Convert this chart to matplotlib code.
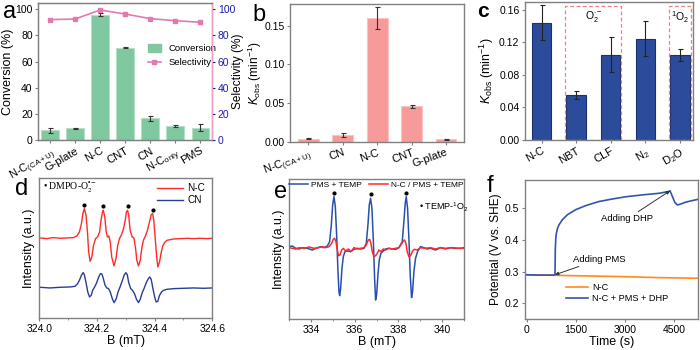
import numpy as np
import matplotlib
matplotlib.use('Agg')
import matplotlib.pyplot as plt
from matplotlib.patches import Rectangle
from matplotlib.ticker import MultipleLocator, FormatStrFormatter
from matplotlib.lines import Line2D

plt.rcParams['font.family'] = ['Liberation Sans', 'DejaVu Sans']
plt.rcParams['mathtext.fontset'] = 'custom'
plt.rcParams['mathtext.rm'] = 'Liberation Sans'
plt.rcParams['mathtext.it'] = 'Liberation Sans:italic'
plt.rcParams['mathtext.bf'] = 'Liberation Sans:bold'

# ---------------- data ----------------
# (a)
a_labels = ['N-C$_{\\rm (CA+U)}$', 'G-plate', 'N-C', 'CNT', 'CN', 'N-C$_{\\rm only}$', 'PMS']
a_conv = [7.3, 9.0, 95.9, 70.5, 16.6, 10.6, 9.5]
a_conv_err = [1.6, 0.4, 1.2, 0.4, 1.8, 0.6, 2.4]
a_sel = [92.1, 92.6, 99.5, 96.4, 92.9, 91.3, 90.1]

# (b)
b_labels = ['N-C$_{\\rm (CA+U)}$', 'CN', 'N-C', 'CNT', 'G-plate']
b_k = [0.0040, 0.0088, 0.160, 0.0458, 0.0032]
b_err = [0.0005, 0.0022, 0.0143, 0.0017, 0.0008]

# (c)
c_labels = ['N-C', 'NBT', 'CLF', 'N$_2$', 'D$_2$O']
c_k = [0.1444, 0.0555, 0.1046, 0.1247, 0.1046]
c_err = [0.0215, 0.0045, 0.0215, 0.0215, 0.0072]
c_box_top = 0.165
c_groups = [(1, 2, 'O$_2^{\\bullet -}$'), (4, 4, '$^1$O$_2$')]

# (d) EPR DMPO-O2
d_b_nc = [324.002, 324.026, 324.049, 324.072, 324.095, 324.118, 324.130, 324.139, 324.146, 324.151,
          324.156, 324.162, 324.167, 324.171, 324.176, 324.182, 324.188, 324.195, 324.202, 324.209,
          324.214, 324.219, 324.222, 324.227, 324.232, 324.236, 324.241, 324.246, 324.251, 324.259,
          324.266, 324.272, 324.278, 324.285, 324.292, 324.298, 324.302, 324.306, 324.310, 324.315,
          324.322, 324.328, 324.334, 324.338, 324.344, 324.350, 324.356, 324.361, 324.368, 324.375,
          324.382, 324.388, 324.393, 324.397, 324.402, 324.407, 324.411, 324.417, 324.423, 324.429,
          324.436, 324.443, 324.466, 324.489, 324.512, 324.535, 324.558, 324.581, 324.599]
d_int_nc = [0, -2, 1, -1, 0, 1, 6, 18, 43, 73,
            88, 68, 18, -42, -70, -57, -22, -2, 3, 18,
            53, 78, 83, 63, 18, 3, 6, -12, -57, -84,
            -62, -22, -2, 10, 28, 53, 78, 83, 68, 23,
            3, 0, -32, -67, -84, -67, -27, -7, 6, 23,
            48, 70, 73, 53, -2, -57, -87, -72, -42, -22,
            -12, -7, -3, -2, -1, -2, -1, -2, -1]
d_b_cn = [324.002, 324.037, 324.072, 324.107, 324.124, 324.132, 324.139, 324.146, 324.152, 324.156,
          324.162, 324.168, 324.174, 324.180, 324.185, 324.192, 324.199, 324.206, 324.212, 324.217,
          324.222, 324.228, 324.234, 324.240, 324.246, 324.253, 324.259, 324.266, 324.273, 324.280,
          324.287, 324.294, 324.300, 324.305, 324.310, 324.317, 324.323, 324.330, 324.337, 324.344,
          324.350, 324.357, 324.364, 324.371, 324.378, 324.383, 324.388, 324.394, 324.400, 324.405,
          324.411, 324.417, 324.424, 324.431, 324.443, 324.466, 324.500, 324.535, 324.570, 324.599]
d_int_cn = [2, 0, 2, 3, 5, 12, 23, 38, 46, 40,
            16, -12, -27, -22, -7, 3, 16, 33, 43, 42,
            28, 8, 0, -2, -12, -32, -44, -34, -12, 3,
            20, 38, 46, 40, 16, -2, -7, -17, -34, -44,
            -34, -14, 0, 16, 28, 33, 26, -2, -27, -42,
            -40, -22, -12, -7, -4, -2, -1, 0, -1, 0]
d_peaks = [324.156, 324.222, 324.306, 324.393]

# (e) EPR TEMP-1O2
e_b_pms = [333.000, 333.152, 333.304, 333.457, 333.609, 333.837, 334.065, 334.218, 334.446, 334.598,
           334.750, 334.857, 334.933, 334.994, 335.055, 335.116, 335.177, 335.237, 335.283, 335.314,
           335.359, 335.420, 335.481, 335.557, 335.664, 335.816, 335.968, 336.120, 336.272, 336.425,
           336.531, 336.607, 336.668, 336.729, 336.790, 336.851, 336.912, 336.957, 337.003, 337.064,
           337.125, 337.201, 337.307, 337.414, 337.566, 337.718, 337.871, 338.023, 338.175, 338.251,
           338.312, 338.358, 338.419, 338.479, 338.540, 338.601, 338.647, 338.708, 338.784, 338.875,
           339.012, 339.164, 339.317, 339.469, 339.697, 339.925, 340.154, 340.382, 340.610, 340.839,
           340.991]
e_int_pms = [5, 7, 0, -2, 2, 0, -5, 0, 5, 2,
             7, 20, 70, 130, 155, 125, 40, -70, -130, -142,
             -120, -60, -25, -10, -8, -10, -3, 0, -2, 0,
             15, 70, 130, 150, 120, 30, -90, -155, -140, -80,
             -35, -15, -8, -2, 0, -2, -3, 2, 20, 80,
             135, 155, 120, 30, -80, -148, -130, -70, -30, -10,
             5, 2, -2, 0, -5, 2, -2, 2, 0, 0,
             2]
e_b_nc = [333.000, 333.152, 333.304, 333.457, 333.685, 333.913, 334.142, 334.370, 334.522, 334.674,
          334.826, 334.948, 335.024, 335.085, 335.146, 335.207, 335.268, 335.329, 335.405, 335.481,
          335.588, 335.709, 335.831, 335.968, 336.120, 336.272, 336.425, 336.531, 336.623, 336.683,
          336.744, 336.805, 336.881, 336.957, 337.033, 337.110, 337.201, 337.307, 337.414, 337.566,
          337.718, 337.871, 338.023, 338.129, 338.221, 338.282, 338.342, 338.403, 338.479, 338.556,
          338.632, 338.723, 338.860, 339.012, 339.241, 339.469, 339.697, 339.925, 340.154, 340.458,
          340.763, 340.991]
e_int_nc = [2, 0, -2, 2, 0, 4, 0, 2, 5, 2,
            5, 15, 27, 30, 20, -5, -22, -20, -5, 0,
            -8, -2, -10, 2, -2, 0, 2, 10, 25, 27,
            15, -10, -25, -22, -15, -5, -10, -2, -5, 0,
            -2, 0, 2, 12, 22, 25, 15, -10, -25, -22,
            -10, -3, -5, 2, 0, 2, -2, 2, 0, 2,
            0, 0]
e_peaks = [335.055, 336.729, 338.358]

# (f) open-circuit potential
f_t_nc = [0, 1000, 2000, 3000, 4000, 5230]
f_v_nc = [0.290, 0.288, 0.286, 0.284, 0.281, 0.279]
f_t_all = [0, 400, 835, 865, 875, 890, 906, 940, 987, 1089, 1242, 1496, 1802, 2209, 2616, 3023, 3532, 4041,
           4347, 4377, 4449, 4520, 4601, 4703, 4856, 5059, 5230]
f_v_all = [0.290, 0.289, 0.289, 0.290, 0.370, 0.405, 0.420, 0.436, 0.448, 0.464, 0.480, 0.496, 0.509,
           0.522, 0.530, 0.537, 0.543, 0.548, 0.554, 0.556, 0.538, 0.520, 0.511, 0.514, 0.520, 0.525, 0.529]
f_pms_time = 865
f_dhp_time = 4377

# ---------------- style ----------------
GREY = '#808080'
TICK_FS = 7.5
LAB_FS = 9


def style_axes(ax):
    for s in ax.spines.values():
        s.set_color(GREY)
        s.set_linewidth(1.0)
    ax.tick_params(direction='out', length=2.5, width=0.8, color=GREY, labelsize=TICK_FS, pad=1.5)
    ax.tick_params(which='minor', direction='out', length=1.5, width=0.6, color=GREY)


fig = plt.figure(figsize=(7, 3.5), dpi=100)

# ---- panel a ----
ax = fig.add_axes([0.0547, 0.600, 0.2486, 0.392])
style_axes(ax)
xa = np.arange(len(a_conv))
ax.bar(xa, a_conv, 0.7, color='#80c8a0', edgecolor='#b5e0c8', linewidth=0.8,
       yerr=a_conv_err, error_kw=dict(ecolor='#333333', elinewidth=0.8, capsize=1.8, capthick=0.8))
ax.set_xlim(-0.47, 6.48)
ax.set_ylim(0, 105)
ax.set_yticks(range(0, 101, 20))
ax.set_xticks(xa)
ax.set_xticklabels(a_labels, rotation=30, ha='right', rotation_mode='anchor', fontsize=8)
ax.set_ylabel('Conversion (%)', fontsize=LAB_FS, labelpad=1)
ax2 = ax.twinx()
ax2.plot(xa, a_sel, '-s', color='#e07ab0', ms=3.2, lw=1.2)
ax2.set_ylim(0, 105)
ax2.set_yticks(range(0, 101, 20))
ax2.tick_params(direction='out', length=2.5, width=0.8, colors='#1c1cb0', labelsize=TICK_FS, pad=1.5)
for s in ax2.spines.values():
    s.set_color(GREY)
ax2.spines['right'].set_color('#f0a0c8')
ax2.set_ylabel('Selectivity (%)', fontsize=8.6)
ax2.yaxis.set_label_coords(1.112, 0.5)
handles = [plt.Rectangle((0, 0), 1, 1, color='#80c8a0'),
           Line2D([], [], color='#e07ab0', marker='s', ms=3.2, lw=1.2)]
ax.legend(handles, ['Conversion', 'Selectivity'], loc='upper left', bbox_to_anchor=(0.58, 0.76),
          frameon=False, fontsize=6.8, handlelength=1.4, handleheight=0.9, labelspacing=0.5)

# ---- panel b ----
ax = fig.add_axes([0.4143, 0.5946, 0.2486, 0.394])
style_axes(ax)
xb = np.arange(len(b_k))
ax.bar(xb, b_k, 0.6, color='#f79a9a', edgecolor='#fbc4c4', linewidth=0.8,
       yerr=b_err, error_kw=dict(ecolor='#333333', elinewidth=0.8, capsize=1.8, capthick=0.8))
ax.set_xlim(-0.53, 4.52)
ax.set_ylim(0, 0.178)
ax.set_yticks([0, 0.05, 0.10, 0.15])
ax.yaxis.set_major_formatter(FormatStrFormatter('%.2f'))
ax.set_xticks(xb)
ax.set_xticklabels(b_labels, rotation=20, ha='right', rotation_mode='anchor', fontsize=8)
ax.set_ylabel('$K_{\\rm obs}$ (min$^{-1}$)', fontsize=8.6)
ax.yaxis.set_label_coords(-0.152, 0.5)

# ---- panel c ----
ax = fig.add_axes([0.75, 0.600, 0.2396, 0.395])
style_axes(ax)
xc = np.arange(len(c_k))
wc = 0.56
ax.bar(xc, c_k, wc, color='#2b4c9b', edgecolor='#1c3070', linewidth=0.8,
       yerr=c_err, error_kw=dict(ecolor='#222222', elinewidth=0.8, capsize=1.8, capthick=0.8))
for i0, i1, lab in c_groups:
    x0 = xc[i0] - wc / 2 - 0.03
    x1 = xc[i1] + wc / 2 + 0.03
    ax.add_patch(Rectangle((x0, 0), x1 - x0, c_box_top, fill=False, ec='#f08080',
                           ls=(0, (3, 2)), lw=0.9, zorder=3))
    ax.text((x0 + x1) / 2, c_box_top - 0.004, lab, ha='center', va='top', fontsize=7.5)
ax.set_xlim(-0.48, 4.37)
ax.set_ylim(0, 0.17)
ax.set_yticks([0, 0.04, 0.08, 0.12, 0.16])
ax.yaxis.set_major_formatter(FormatStrFormatter('%.2f'))
ax.set_xticks(xc)
ax.set_xticklabels(c_labels, rotation=30, ha='right', rotation_mode='anchor', fontsize=8)
ax.set_ylabel('$K_{\\rm obs}$ (min$^{-1}$)', fontsize=LAB_FS, labelpad=2)

# ---- panel d ----
ax = fig.add_axes([0.0562, 0.0906, 0.2471, 0.40])
style_axes(ax)
red_off, blue_off = 0, -150
ax.plot(d_b_nc, np.array(d_int_nc) + red_off, color='#ff2a2a', lw=1.0, label='N-C')
ax.plot(d_b_cn, np.array(d_int_cn) + blue_off, color='#2a3c9a', lw=1.0, label='CN')
py = np.interp(d_peaks, d_b_nc, d_int_nc) + red_off + 12
ax.plot(d_peaks, py, 'o', color='black', ms=2)
ax.set_xlim(324.0, 324.6)
ax.set_ylim(-241, 179)
ax.set_yticks([])
ax.xaxis.set_major_locator(MultipleLocator(0.2))
ax.xaxis.set_minor_locator(MultipleLocator(0.1))
ax.xaxis.set_major_formatter(FormatStrFormatter('%.1f'))
ax.set_xlabel('B (mT)', fontsize=LAB_FS, labelpad=1)
ax.set_ylabel('Intensity (a.u.)', fontsize=LAB_FS, labelpad=3)
ax.legend(loc='upper right', bbox_to_anchor=(1.01, 1.03), frameon=False, fontsize=7.2,
          handlelength=2.6, labelspacing=0.2, handletextpad=0.4)
ax.text(0.02, 0.935, '\u2022 DMPO-O$_2^{\\bullet -}$', transform=ax.transAxes, fontsize=7,
        family='Liberation Serif', math_fontfamily='stix', va='center')

# ---- panel e ----
ax = fig.add_axes([0.4129, 0.0886, 0.25, 0.40])
style_axes(ax)
ax.plot(e_b_pms, e_int_pms, color='#2850b0', lw=1.1, label='PMS + TEMP')
ax.plot(e_b_nc, e_int_nc, color='#ff2a2a', lw=1.1, label='N-C / PMS + TEMP')
py = np.interp(e_peaks, e_b_pms, e_int_pms) + 12
ax.plot(e_peaks, py, 'o', color='black', ms=2)
ax.set_xlim(333, 341)
ax.set_ylim(-212, 208)
ax.set_yticks([])
ax.xaxis.set_major_locator(MultipleLocator(2))
ax.xaxis.set_minor_locator(MultipleLocator(1))
ax.set_xlabel('B (mT)', fontsize=LAB_FS, labelpad=1)
ax.set_ylabel('Intensity (a.u.)', fontsize=LAB_FS, labelpad=3)
ax.legend(loc='upper center', bbox_to_anchor=(0.5, 1.04), ncol=2, frameon=False, fontsize=6,
          handlelength=2.2, columnspacing=0.9, handletextpad=0.4)
ax.text(0.74, 0.80, '\u2022 TEMP-$^1$O$_2$', transform=ax.transAxes, fontsize=6.5, va='center')

# ---- panel f ----
ax = fig.add_axes([0.75, 0.0886, 0.2471, 0.397])
style_axes(ax)
ax.plot(f_t_nc, f_v_nc, color='#ff8a20', lw=1.2, label='N-C')
ax.plot(f_t_all, f_v_all, color='#3355aa', lw=1.2, label='N-C + PMS + DHP')
ax.set_xlim(-50, 5230)
ax.set_ylim(0.15, 0.59)
ax.set_xticks([0, 1500, 3000, 4500])
ax.set_yticks([0.2, 0.3, 0.4, 0.5])
ax.yaxis.set_major_formatter(FormatStrFormatter('%.1f'))
ax.set_xlabel('Time (s)', fontsize=LAB_FS, labelpad=1)
ax.set_ylabel('Potential (V vs. SHE)', fontsize=8.6, labelpad=2)
ax.legend(loc='upper left', bbox_to_anchor=(0.19, 0.32), frameon=False, fontsize=6.6,
          handlelength=2.4, labelspacing=0.25, handletextpad=0.4)
v_pms = np.interp(f_pms_time, f_t_all, f_v_all)
v_dhp = np.interp(f_dhp_time, f_t_all, f_v_all)
arrow = dict(arrowstyle='-|>', color='#333333', lw=0.7, mutation_scale=5, shrinkA=0, shrinkB=0)
ax.annotate('Adding PMS', xy=(f_pms_time, v_pms), xytext=(0.28, 0.43), textcoords='axes fraction',
            fontsize=6.8, ha='left', va='center', arrowprops=arrow)
ax.annotate('Adding DHP', xy=(f_dhp_time, v_dhp), xytext=(0.44, 0.72), textcoords='axes fraction',
            fontsize=6.8, ha='left', va='center', arrowprops=arrow)

# ---- panel letters ----
fig.text(0.004, 0.966, 'a', fontsize=17, va='center')
fig.text(0.360, 0.958, 'b', fontsize=17, va='center')
fig.text(0.682, 0.966, 'c', fontsize=15, va='center', weight='bold')
fig.text(0.022, 0.461, 'd', fontsize=17, va='center')
fig.text(0.392, 0.452, 'e', fontsize=17, va='center')
fig.text(0.695, 0.470, 'f', fontsize=17, va='center')

fig.savefig('out.png', dpi=100)
